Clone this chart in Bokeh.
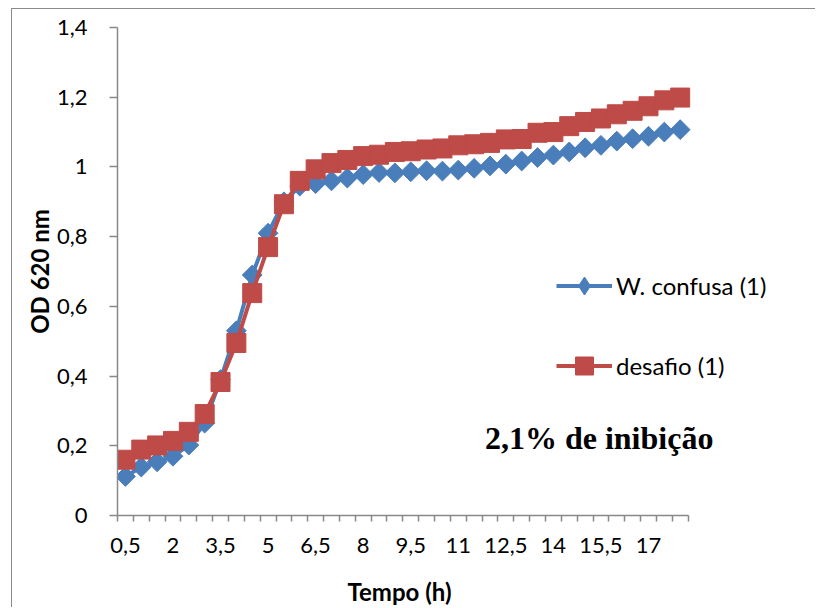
import math
from bokeh.plotting import figure
from bokeh.models import Range1d, FixedTicker, Legend, LegendItem, Label, Title
from bokeh.embed import file_html
from bokeh.resources import INLINE

# ---- data ----
time_h = [0.5, 1.0, 1.5, 2.0, 2.5, 3.0, 3.5, 4.0, 4.5, 5.0, 5.5, 6.0,
          6.5, 7.0, 7.5, 8.0, 8.5, 9.0, 9.5, 10.0, 10.5, 11.0, 11.5, 12.0,
          12.5, 13.0, 13.5, 14.0, 14.5, 15.0, 15.5, 16.0, 16.5, 17.0, 17.5, 18.0]

w_confusa = [0.112, 0.139, 0.154, 0.170, 0.202, 0.265, 0.390, 0.530, 0.690, 0.810, 0.900, 0.945,
             0.952, 0.960, 0.968, 0.978, 0.984, 0.983, 0.986, 0.989, 0.988, 0.991, 0.996, 1.003,
             1.008, 1.017, 1.027, 1.034, 1.043, 1.055, 1.062, 1.074, 1.081, 1.088, 1.100, 1.107]

desafio = [0.160, 0.189, 0.201, 0.214, 0.240, 0.291, 0.383, 0.495, 0.638, 0.770, 0.893, 0.960,
           0.993, 1.011, 1.020, 1.031, 1.035, 1.043, 1.045, 1.050, 1.053, 1.062, 1.065, 1.069,
           1.079, 1.080, 1.098, 1.100, 1.117, 1.129, 1.139, 1.151, 1.161, 1.174, 1.191, 1.199]

x_tick_values = [0.5, 2.0, 3.5, 5.0, 6.5, 8.0, 9.5, 11.0, 12.5, 14.0, 15.5, 17.0]
x_tick_labels = ["0,5", "2", "3,5", "5", "6,5", "8", "9,5", "11", "12,5", "14", "15,5", "17"]
y_tick_values = [0, 0.2, 0.4, 0.6, 0.8, 1.0, 1.2, 1.4]
y_tick_labels = ["0", "0,2", "0,4", "0,6", "0,8", "1", "1,2", "1,4"]

series_names = ["W. confusa (1)", "desafio (1)"]
x_title = "Tempo (h)"
y_title = "OD 620 nm"
annotation_text = "2,1% de inibição"

BLUE = "#4A7EBB"
RED = "#BE4B48"
AXIS = "#898989"
FONT = "Lato"

x_lo, x_hi = 0.25, 18.25
p = figure(width=804, height=599, output_backend="svg", toolbar_location=None,
           x_range=Range1d(x_lo, 22.30), y_range=Range1d(0, 1.4),
           min_border_left=105, min_border_right=0, min_border_top=18, min_border_bottom=93,
           margin=(8, 0, 0, 11),
           styles={"border-left": "1px solid #8a8a8a", "border-top": "1px solid #8a8a8a"})
p.outline_line_color = None
p.grid.visible = False
p.background_fill_color = "white"
p.border_fill_color = "white"

# x axis: category boundaries as minor ticks
boundaries = [t - 0.25 for t in time_h] + [time_h[-1] + 0.25]
xa = p.xaxis[0]
xa.bounds = (x_lo, x_hi)
xa.ticker = FixedTicker(ticks=x_tick_values, minor_ticks=boundaries)
xa.major_label_overrides = {v: l for v, l in zip(x_tick_values, x_tick_labels)}
xa.major_tick_out = 0
xa.major_tick_in = 0
xa.minor_tick_out = 6
xa.minor_tick_in = 0
xa.major_label_standoff = 16

ya = p.yaxis[0]
ya.ticker = FixedTicker(ticks=y_tick_values)
ya.major_label_overrides = {v: l for v, l in zip(y_tick_values, y_tick_labels)}
ya.major_tick_out = 8
ya.major_tick_in = 0
ya.minor_tick_out = 0
ya.minor_tick_in = 0
ya.major_label_standoff = 22
ya.axis_label = y_title
ya.axis_label_standoff = 0

for ax in (xa, ya):
    ax.axis_line_color = AXIS
    ax.axis_line_width = 1.5
    ax.major_tick_line_color = AXIS
    ax.major_tick_line_width = 1.5
    ax.minor_tick_line_color = AXIS
    ax.minor_tick_line_width = 1.5
    ax.major_label_text_font = FONT
    ax.major_label_text_font_size = "22px"
    ax.major_label_text_color = "black"
    ax.axis_label_text_font = FONT
    ax.axis_label_text_font_size = "24px"
    ax.axis_label_text_font_style = "bold"
    ax.axis_label_text_color = "black"

# spacer, then the x axis title (placed under the axis part of the frame)
p.add_layout(Title(text=" ", text_font_size="1px", standoff=16), "below")
p.add_layout(Title(text=x_title, align="left", offset=230, text_font=FONT,
                   text_font_size="24px", text_font_style="bold", text_color="black",
                   standoff=0), "below")

bl = p.line(time_h, w_confusa, line_width=4, line_color=BLUE)
# diamond marker hidden under the rotated squares, used for the legend glyph
bd = p.scatter(time_h, w_confusa, marker="diamond", size=14, fill_color=BLUE, line_color=BLUE)
bm = p.scatter(time_h, w_confusa, marker="square", angle=math.pi / 4, size=14,
               fill_color=BLUE, line_color=BLUE)
rl = p.line(time_h, desafio, line_width=4, line_color=RED)
rm = p.scatter(time_h, desafio, marker="square", size=19, fill_color=RED, line_color=RED)

def make_legend(item, gh, vy):
    lg = Legend(items=[item], location=(439, vy), glyph_width=56, glyph_height=gh,
                label_standoff=4, label_height=20, padding=0, margin=0, spacing=0,
                border_line_alpha=0, background_fill_alpha=0,
                label_text_font=FONT, label_text_font_size="24px", label_text_color="black")
    p.add_layout(lg, "center")

make_legend(LegendItem(label=series_names[0], renderers=[bl, bd]), 45, 207.5)
make_legend(LegendItem(label=series_names[1], renderers=[rl, rm]), 45, 127.5)

p.add_layout(Label(x=11.84, y=0.222, text=annotation_text, text_font="Liberation Serif",
                   text_font_style="bold", text_font_size="32px", text_color="black",
                   text_align="left", text_baseline="alphabetic"))

open("out.html", "w").write(file_html(p, INLINE))
